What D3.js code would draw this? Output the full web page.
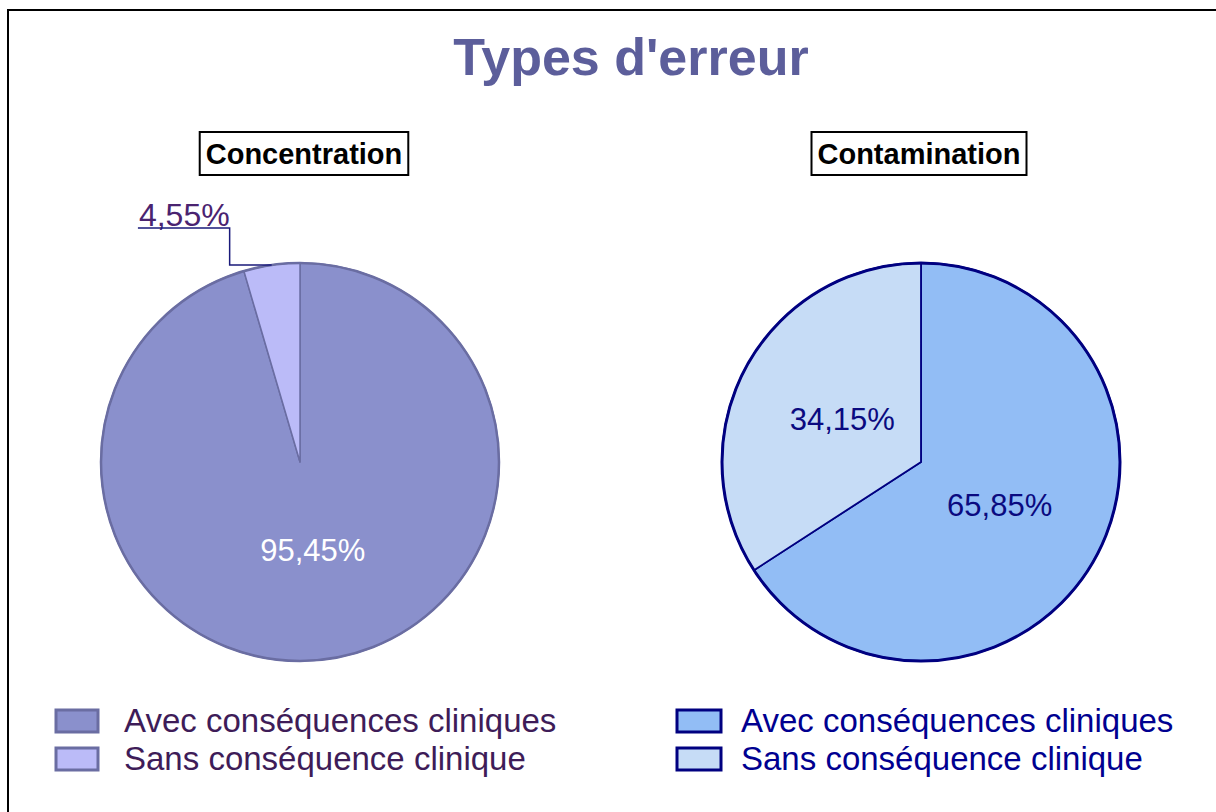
<!DOCTYPE html>
<html>
<head>
<meta charset="utf-8">
<script src="https://cdn.jsdelivr.net/npm/d3@7"></script>
<style>
  html, body { margin: 0; padding: 0; background: #fff; }
  svg { display: block; font-family: "Liberation Sans", Arial, sans-serif; }
</style>
</head>
<body>
<svg id="chart" width="1216" height="812"></svg>
<script>
// ---- data ----
const chartTitle = "Types d'erreur";
const pieTitles = ["Concentration", "Contamination"];
const categories = ["Avec conséquences cliniques", "Sans conséquence clinique"];
const concentrationValues = [95.45, 4.55];
const contaminationValues = [65.85, 34.15];
const concentrationLabels = ["95,45%", "4,55%"];
const contaminationLabels = ["65,85%", "34,15%"];

// ---- styles ----
const styles = [
  { cx: 300, fills: ["#8A90CC", "#BBBBF8"], stroke: "#6A6DA2", outerW: 2.5, innerW: 1.5,
    labelColors: ["#FFFFFF", "#4A2370"], legendText: "#3E1C58", legendX: 56, swW: 42, textX: 124, titleDx: 4 },
  { cx: 921, fills: ["#92BDF5", "#C6DCF6"], stroke: "#000080", outerW: 3, innerW: 1.8,
    labelColors: ["#0A0A80", "#0A0A80"], legendText: "#000090", legendX: 677, swW: 44, textX: 741, titleDx: -2 }
];
const valuesList = [concentrationValues, contaminationValues];
const labelsList = [concentrationLabels, contaminationLabels];

const svg = d3.select("#chart");
const cy = 462, R = 199;

// frame
svg.append("rect").attr("x", 8).attr("y", 10).attr("width", 1230).attr("height", 830)
  .attr("fill", "none").attr("stroke", "#000").attr("stroke-width", 2);

// title
svg.append("text").attr("x", 631).attr("y", 75).attr("text-anchor", "middle")
  .attr("font-size", 52).attr("font-weight", "bold").attr("fill", "#5C5E9B").text(chartTitle);

const pie = d3.pie().sort(null).value(d => d);
const arc = d3.arc().innerRadius(0).outerRadius(R);
const labelArc = d3.arc().innerRadius(0).outerRadius(R * 0.9);

pieTitles.forEach((title, i) => {
  const st = styles[i];
  const g = svg.append("g").attr("transform", `translate(${st.cx},${cy})`);
  const arcs = pie(valuesList[i]);

  g.selectAll("path.slice").data(arcs).enter().append("path")
    .attr("class", "slice")
    .attr("d", arc)
    .attr("fill", (d, j) => st.fills[j])
    .attr("stroke", st.stroke).attr("stroke-width", st.innerW).attr("stroke-linejoin", "round");

  g.append("circle").attr("r", R).attr("fill", "none")
    .attr("stroke", st.stroke).attr("stroke-width", st.outerW);

  // labels
  arcs.forEach((a, j) => {
    const txt = labelsList[i][j];
    const share = a.endAngle - a.startAngle;
    if (share > 0.3) {
      const [lx, ly] = labelArc.centroid(a);
      g.append("text").attr("x", lx).attr("y", ly).attr("text-anchor", "middle")
        .attr("dy", "0.35em").attr("font-size", 31).attr("fill", st.labelColors[j]).text(txt);
    } else {
      // outside label with elbow leader
      const mid = (a.startAngle + a.endAngle) / 2;
      const px = Math.sin(mid) * R, py = -Math.cos(mid) * R;
      const elbowX = px - 42, underY = py - 37;
      const t = g.append("text").attr("x", elbowX).attr("y", underY - 2)
        .attr("text-anchor", "end").attr("font-size", 32).attr("fill", st.labelColors[j]).text(txt);
      const w = t.node().getComputedTextLength();
      g.append("path")
        .attr("d", `M${px},${py}H${elbowX}V${underY}H${elbowX - w - 1}`)
        .attr("fill", "none").attr("stroke", "#1A1A7A").attr("stroke-width", 1.5);
    }
  });

  // pie title box
  const tt = svg.append("text").attr("x", st.cx + st.titleDx).attr("y", 164)
    .attr("text-anchor", "middle").attr("font-size", 29).attr("font-weight", "bold")
    .attr("fill", "#000").text(title);
  const bb = tt.node().getBBox();
  svg.insert("rect", "text").attr("x", bb.x - 6).attr("y", 132).attr("width", bb.width + 12).attr("height", 43)
    .attr("fill", "#fff").attr("stroke", "#000").attr("stroke-width", 2);

  // legend
  categories.forEach((c, j) => {
    const y0 = 710 + j * 38;
    svg.append("rect").attr("x", st.legendX).attr("y", y0).attr("width", st.swW).attr("height", 22)
      .attr("fill", st.fills[j]).attr("stroke", st.stroke).attr("stroke-width", 3);
    svg.append("text").attr("x", st.textX).attr("y", y0 + 22)
      .attr("font-size", 33).attr("fill", st.legendText).text(c);
  });
});
</script>
</body>
</html>
